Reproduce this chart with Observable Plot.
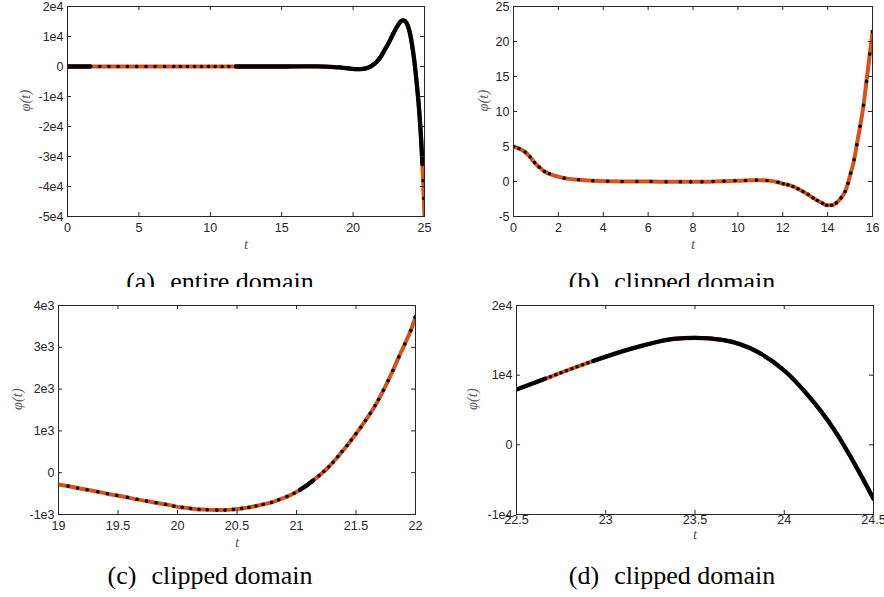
<!DOCTYPE html>
<html><head><meta charset="utf-8">
<script src="https://cdn.jsdelivr.net/npm/d3@7"></script>
<script src="https://cdn.jsdelivr.net/npm/@observablehq/plot@0.6"></script>
<style>
body{margin:0;background:#fff;}
#fig{position:relative;width:884px;height:597px;overflow:hidden;background:#fff;}
.panel{position:absolute;}
#topcaps{position:absolute;left:0;top:0;width:884px;height:287px;overflow:hidden;pointer-events:none;}
#botcaps{position:absolute;left:0;top:0;width:884px;height:597px;pointer-events:none;}
</style></head><body><div id="fig"></div>
<script>
// ---- data ----
// marker (black dot) positions: t and phi(t)
const markerT = [0,0.25,0.52,0.74,0.94,1.15,1.38,1.6,2.26,2.9,3.54,4.2,4.84,5.5,6.13,6.8,7.44,7.9,8.4,8.9,9.38,9.87,10.34,10.83,11.3,11.79,12.02,12.23,12.46,12.68,12.9,13.13,13.35,13.54,13.77,13.96,14.17,14.39,14.6,14.78,14.91,15.03,15.18,15.3,15.45,15.6,15.73,15.88,16.0,
  19.08,19.16,19.24,19.33,19.41,19.49,19.58,19.66,19.74,19.82,19.9,19.97,20.04,20.11,20.18,20.25,20.33,20.4,20.47,20.54,20.6,20.66,20.72,20.79,20.85,20.92,20.98,21.03,21.09,21.14,21.19,21.23,21.271,21.307,21.347,21.383,21.425,21.46,21.5,21.54,21.58,21.62,21.66,21.69,21.73,21.77,21.81,21.86,21.91,21.96,22.0,
  22.66,22.69,22.72,22.75,22.78,22.81,22.84,22.87,22.9,22.93,
  24.85,24.9,24.95,25.0];
const markerPhi = [5.0,4.7,4.2,3.5,2.7,2.05,1.43,1.1,0.48,0.24,0.1,0.02,0,0,0,-0.05,-0.05,-0.05,-0.05,0,0.05,0.1,0.14,0.19,0.14,-0.1,-0.33,-0.48,-0.72,-1.05,-1.43,-1.86,-2.34,-2.72,-3.1,-3.4,-3.4,-3.06,-2.34,-1.43,-0.24,1.19,3.1,5.26,7.9,10.9,14.3,18.2,21.4,
  -320,-368,-407,-455,-502,-543,-591,-639,-679,-718,-758,-799,-830,-854,-878,-885,-895,-895,-878,-854,-830,-795,-758,-711,-650,-572,-490,-410,-295,-185,-70,30,140,250,380,505,650,780,933,1086,1250,1420,1600,1752,1970,2200,2445,2770,3080,3400,3722,
  9474,9770,10064,10355,10643,10928,11210,11489,11765,12040,
  -32500,-38000,-44000,-50500];
// extra points of the solution curve where markers merge into a solid line
const curveT = [16.3,16.7,17.1,17.5,18.0,18.5,19.0,22.25,22.5,23.2,23.38,23.5,23.66,23.85,24.0,24.13,24.28,24.41,24.5,24.6,24.7,24.8];
const curvePhi = [45,58,50,25,-40,-150,-280,5850,7943,14200,15215,15359,15040,13350,10670,7200,2150,-3450,-7751,-13000,-19500,-27500];
// t-ranges where markers are so dense that they form a solid black line
const denseRangesA = [[0,1.6],[11.79,24.85]];
const denseRanges = [[21.03,21.14],[22.0,22.66],[22.93,24.85]];

const xTicksA = [0,5,10,15,20,25], yTicksA = [-50000,-40000,-30000,-20000,-10000,0,10000,20000];
const xTicksB = [0,2,4,6,8,10,12,14,16], yTicksB = [-5,0,5,10,15,20,25];
const xTicksC = [19,19.5,20,20.5,21,21.5,22], yTicksC = [-1000,0,1000,2000,3000,4000];
const xTicksD = [22.5,23,23.5,24,24.5], yTicksD = [-10000,0,10000,20000];
const captions = ["(a)", "entire domain", "(b)", "clipped domain", "(c)", "clipped domain", "(d)", "clipped domain"];
const yLabel = "φ(t)", xLabel = "t";

// ---- build ----
const ORANGE = "#D95319", INK = "#262626";
const markers = markerT.map((t,i)=>({t, phi: markerPhi[i]}));
const curve = markers.concat(curveT.map((t,i)=>({t, phi: curvePhi[i]}))).sort((a,b)=>a.t-b.t);
const e4 = v => v===0 ? "0" : (v/1e4)+"e4";
const e3 = v => v===0 ? "0" : (v/1e3)+"e3";

const panels = [
  {left:0, top:0, width:440, ml:67, mr:16, mt:6, mb:34, xd:[0,25], yd:[-50000,20000], xt:xTicksA, yt:yTicksA, yf:e4, xPad:7, yDx:-42, tDy:32, dense:denseRangesA},
  {left:440, top:0, width:444, ml:73, mr:12, mt:6, mb:34, xd:[0,16], yd:[-5,25], xt:xTicksB, yt:yTicksB, yf:String, xPad:7, yDx:-30, tDy:32, dense:denseRanges},
  {left:0, top:299, width:440, ml:58, mr:25, mt:6, mb:35, xd:[19,22], yd:[-1000,4000], xt:xTicksC, yt:yTicksC, yf:e3, xPad:7, yDx:-41, tDy:32, dense:denseRanges},
  {left:440, top:299, width:444, ml:76, mr:11, mt:6, mb:35, xd:[22.5,24.5], yd:[-10000,20000], xt:xTicksD, yt:yTicksD, yf:e4, xPad:1, yDx:-44, tDy:24, dense:denseRanges}
];
const H = 250;
const fig = document.getElementById("fig");
panels.forEach(p => {
  const fw = p.width - p.ml - p.mr, fh = H - p.mt - p.mb;
  const inDom = d => d.t >= p.xd[0] && d.t <= p.xd[1];
  const c = curve.filter(inDom), m = markers.filter(inDom);
  const marks = [
    Plot.line(c, {x:"t", y:"phi", stroke:ORANGE, strokeWidth:4, curve:"monotone-x", clip:true}),
    ...p.dense.map(r => Plot.line(c.filter(d => d.t >= r[0] && d.t <= r[1]), {x:"t", y:"phi", stroke:"#000", strokeWidth:4.3, curve:"monotone-x", clip:true})),
    Plot.dot(m, {x:"t", y:"phi", r:1.8, fill:"#000", stroke:null, clip:true}),
    Plot.frame({stroke:INK, strokeWidth:1}),
    Plot.tickX(p.xt, {x:d=>d, insetTop:fh-4, stroke:INK}),
    Plot.tickX(p.xt, {x:d=>d, insetBottom:fh-4, stroke:INK}),
    Plot.tickY(p.yt, {y:d=>d, insetRight:fw-4, stroke:INK}),
    Plot.tickY(p.yt, {y:d=>d, insetLeft:fw-4, stroke:INK}),
    Plot.axisX(p.xt, {anchor:"bottom", tickSize:0, tickPadding:p.xPad, tickFormat:String, label:null}),
    Plot.axisY(p.yt, {anchor:"left", tickSize:0, tickPadding:4, tickFormat:p.yf, label:null}),
    Plot.text([yLabel], {text:d=>d, frameAnchor:"left", dx:p.yDx, rotate:-90, fontFamily:"Liberation Serif, serif", fontStyle:"italic", fontSize:14.5, fill:"#5a5a5a"}),
    Plot.text([xLabel], {text:d=>d, frameAnchor:"bottom", dy:p.tDy, fontFamily:"Liberation Serif, serif", fontStyle:"italic", fontSize:15, fill:"#5a5a5a"})
  ];
  const svg = Plot.plot({
    width:p.width, height:H,
    marginLeft:p.ml, marginRight:p.mr, marginTop:p.mt, marginBottom:p.mb,
    x:{domain:p.xd}, y:{domain:p.yd},
    style:{fontFamily:"Liberation Sans, Arial, sans-serif", fontSize:"12.5px", color:INK, background:"white", overflow:"visible"},
    marks
  });
  const div = document.createElement("div");
  div.className = "panel";
  div.style.left = p.left + "px"; div.style.top = p.top + "px";
  div.appendChild(svg);
  fig.appendChild(div);
});

// captions
const NS = "http://www.w3.org/2000/svg";
function capSvg(container, items) {
  const s = document.createElementNS(NS, "svg");
  s.setAttribute("width", 884); s.setAttribute("height", 597);
  items.forEach(([x, y, a, b]) => {
    const t = document.createElementNS(NS, "text");
    t.setAttribute("x", x); t.setAttribute("y", y);
    t.setAttribute("text-anchor", "middle");
    t.setAttribute("font-family", "Liberation Serif, serif");
    t.setAttribute("font-size", "26");
    t.setAttribute("fill", "#000");
    t.textContent = a + "\u00a0\u00a0\u200a" + b;
    s.appendChild(t);
  });
  container.appendChild(s);
}
const topCaps = document.createElement("div"); topCaps.id = "topcaps"; fig.appendChild(topCaps);
const botCaps = document.createElement("div"); botCaps.id = "botcaps"; fig.appendChild(botCaps);
capSvg(topCaps, [[220, 290, captions[0], captions[1]], [672, 290, captions[2], captions[3]]]);
capSvg(botCaps, [[210, 584, captions[4], captions[5]], [672, 584, captions[6], captions[7]]]);
</script></body></html>
